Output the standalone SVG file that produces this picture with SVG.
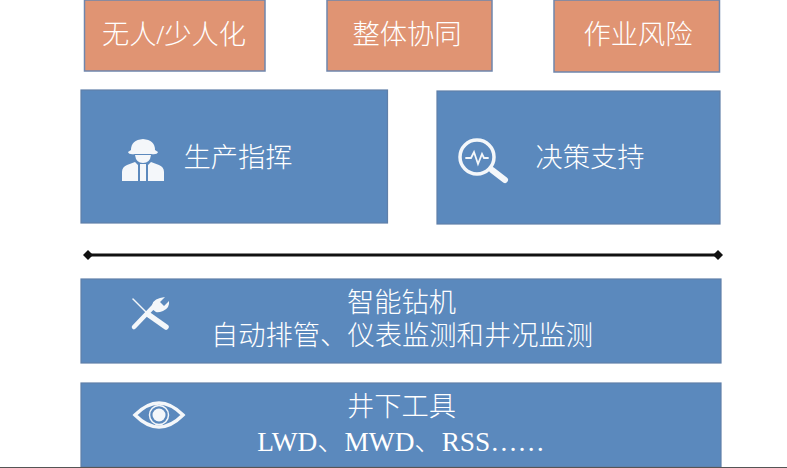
<svg xmlns="http://www.w3.org/2000/svg" width="787" height="468" viewBox="0 0 787 468">
<style>
.o{fill:#e09473;stroke:#6f86ad;stroke-width:1.5}
.b{fill:#5b89bd;stroke:#5f7fa8;stroke-width:1.2}
.t{font-family:"Liberation Serif","Noto Sans CJK SC",serif;font-size:27.300px;fill:#fff;text-anchor:middle;font-weight:300}
.w{fill:#f4f7fa}
.s{fill:none;stroke:#f4f7fa;stroke-linecap:round}
</style>
<defs>
<marker id="d" markerWidth="10" markerHeight="10" refX="5" refY="5" markerUnits="userSpaceOnUse"><path d="M0 5L5 0L10 5L5 10Z" fill="#111"/></marker>
</defs>
<rect width="787" height="468" fill="#fff"/>
<g id="node-unmanned"><rect class="o" x="84.5" y="0" width="180.500" height="71"/><text class="t" x="174" y="44">无人/少人化</text></g>
<g id="node-collab"><rect class="o" x="327" y="0" width="165" height="71"/><text class="t" x="407" y="44">整体协同</text></g>
<g id="node-risk"><rect class="o" x="554" y="0" width="165.500" height="72"/><text class="t" x="638" y="44">作业风险</text></g>
<g id="node-command"><rect class="b" x="81" y="90" width="306.500" height="133"/>
<path class="w" d="M122 181V172Q122 167 127 165L135 162L138 165V181ZM164 181V172Q164 167 159 165L151 162L148 165V181ZM140 164H146V181H140Z"/>
<path class="w" d="M131 150Q131 140 143 139Q155 140 155 150L158 152Q157 155 151 154H135Q129 155 128 152Z"/>
<path class="w" d="M135 155H151Q150 163 143 163Q136 163 135 155Z"/>
<text class="t" x="238" y="167">生产指挥</text></g>
<g id="node-decision"><rect class="b" x="437" y="91" width="283" height="133"/>
<circle class="s" cx="477" cy="157" r="17" stroke-width="3.500"/>
<path class="s" d="M492 170L505 180" stroke-width="6"/>
<path class="s" d="M466 158H471L474 152L478 164L482 154L484 158H488" stroke-width="1.800"/>
<text class="t" x="590" y="167">决策支持</text></g>
<g id="connectors"><path d="M88 255H718" stroke="#111" stroke-width="3" fill="none" marker-start="url(#d)" marker-end="url(#d)"/></g>
<g id="node-rig"><rect class="b" x="81" y="279" width="640" height="84"/>
<path class="s" d="M133 299L149 315" stroke-width="1.500"/>
<path class="s" d="M149 315L166 327" stroke-width="5.500"/>
<path class="s" d="M134 327L155 305" stroke-width="4.500"/>
<path class="w" d="M152 309Q151 300 160 298L165 297L160 302L164 306L169 301Q170 308 163 311Q158 313 156 312Z"/>
<text class="t" x="401.500" y="312">智能钻机</text>
<text class="t" x="402" y="345">自动排管、仪表监测和井况监测</text></g>
<g id="node-tools"><rect class="b" x="81" y="383" width="640" height="84"/>
<path class="s" d="M135 415Q147 403 159 403Q171 403 183 415Q171 427 159 427Q147 427 135 415Z" stroke-width="3.500"/>
<circle class="w" cx="159" cy="415" r="6.500"/>
<circle class="s" cx="159" cy="415" r="9.500" stroke-width="1.500"/>
<text class="t" x="401.500" y="416">井下工具</text>
<text class="t" x="401" y="451">LWD、MWD、RSS……</text></g>
<path d="M0 467.500H787" stroke="#555" stroke-width="1"/>
</svg>
